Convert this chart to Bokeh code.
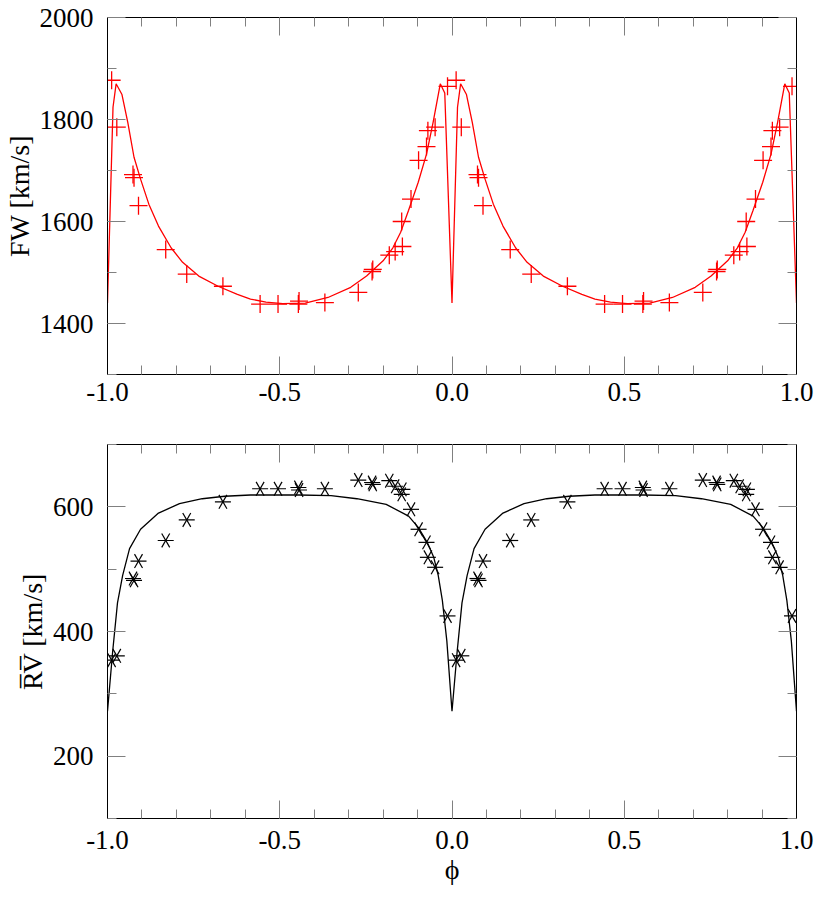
import numpy as np
from bokeh.plotting import figure
from bokeh.models import (Range1d, SingleIntervalTicker, LinearAxis, PrintfTickFormatter,
                          CustomLabelingPolicy)
from bokeh.layouts import column
from bokeh.embed import file_html
from bokeh.resources import INLINE

# ---- observed data (one cycle, phase in [0,1)) ----
phase = [0.012, 0.027, 0.074, 0.077, 0.090, 0.169, 0.230, 0.335, 0.443, 0.495,
         0.554, 0.556, 0.631, 0.728, 0.768, 0.770, 0.818, 0.835, 0.854, 0.856,
         0.881, 0.903, 0.926, 0.930, 0.951, 0.987]
fw_obs = [1877, 1785, 1692, 1686, 1631, 1545, 1497, 1473, 1438, 1438,
          1438, 1444, 1441, 1461, 1502, 1506, 1534, 1541, 1600, 1551,
          1644, 1720, 1747, 1778, 1785, 1865]
rv_obs = [354, 361, 485, 482, 513, 546, 579, 608, 629, 629,
          631, 627, 629, 643, 639, 636, 642, 633, 620, 628,
          596, 564, 543, 519, 503, 425]

# ---- model curves (one cycle) ----
fw_model_phase = [0.0, 0.016, 0.025, 0.042, 0.059, 0.077, 0.096, 0.120, 0.148, 0.185,
                  0.218, 0.265, 0.321, 0.377, 0.415, 0.460, 0.509, 0.574, 0.640, 0.706,
                  0.752, 0.800, 0.828, 0.851, 0.874, 0.902, 0.926, 0.945, 0.966, 0.979, 1.0]
fw_model = [1440, 1824, 1870, 1849, 1794, 1726, 1683, 1634, 1591, 1548,
            1520, 1493, 1473, 1457, 1448, 1442, 1439, 1440, 1451, 1471,
            1493, 1523, 1548, 1579, 1622, 1677, 1732, 1794, 1870, 1852, 1440]
rv_model_phase = [0.0, 0.015, 0.029, 0.044, 0.064, 0.096, 0.148, 0.209, 0.275, 0.340,
                  0.415, 0.556, 0.649, 0.724, 0.809, 0.874, 0.902, 0.928, 0.947, 0.960,
                  0.972, 0.985, 1.0]
rv_model = [272, 368, 446, 490, 533, 564, 590, 605, 613, 617,
            619, 619, 618, 613, 604, 585, 567, 543, 519, 490,
            450, 385, 272]

x_range = (-1.0, 1.0)
fw_range = (1300, 2000)
rv_range = (100, 700)

FONT = "Liberation Serif"
TICK_COLOR = "#808080"
HIDE_ALL = "for (const i of indices) { indices.unset(i) } return indices"


def two_cycles(ph, vals):
    ph = np.asarray(ph, dtype=float)
    vals = np.asarray(vals, dtype=float)
    return np.concatenate([ph - 1.0, ph]), np.concatenate([vals, vals])


def style_axis(ax, show_labels=True):
    ax.axis_line_color = "black"
    ax.axis_line_width = 1
    ax.major_tick_in = 18
    ax.major_tick_out = 0
    ax.minor_tick_in = 9
    ax.minor_tick_out = 0
    ax.major_tick_line_color = TICK_COLOR
    ax.minor_tick_line_color = TICK_COLOR
    ax.major_tick_line_width = 1
    ax.minor_tick_line_width = 1
    ax.major_label_text_font = FONT
    ax.axis_label_text_font = FONT
    ax.axis_label_text_font_style = "normal"
    ax.axis_label_text_font_size = "28px"
    ax.axis_label_text_color = "black"
    ax.major_label_text_color = "black"
    if show_labels:
        ax.major_label_text_font_size = "27px"
    else:
        ax.major_label_text_font_size = "0px"
        ax.major_label_standoff = 0
        ax.major_label_policy = CustomLabelingPolicy(code=HIDE_ALL)


def make_fig(yr, yint, height, ylabel, xlabel, top_border, bottom_border, xstandoff):
    p = figure(width=814, height=height, output_backend="svg", toolbar_location=None,
               x_range=Range1d(*x_range), y_range=Range1d(*yr),
               min_border_left=106, min_border_right=18,
               min_border_top=top_border, min_border_bottom=bottom_border)
    p.background_fill_color = "white"
    p.border_fill_color = "white"
    p.outline_line_color = "black"
    p.outline_line_width = 1
    p.grid.visible = False

    xt = SingleIntervalTicker(interval=0.5, num_minor_ticks=5)
    yt = SingleIntervalTicker(interval=yint, num_minor_ticks=2)
    p.xaxis.ticker = xt
    p.yaxis.ticker = yt
    p.xaxis.formatter = PrintfTickFormatter(format="%.1f")
    p.yaxis.formatter = PrintfTickFormatter(format="%d")
    for ax in p.xaxis:
        style_axis(ax)
        ax.major_label_standoff = xstandoff
        ax.axis_label_standoff = 2
    for ax in p.yaxis:
        style_axis(ax)
        ax.major_label_standoff = 14
        ax.axis_label_standoff = 2
    p.yaxis.axis_label = ylabel
    if xlabel:
        p.xaxis.axis_label = xlabel

    top = LinearAxis(ticker=xt)
    style_axis(top, show_labels=False)
    p.add_layout(top, "above")
    right = LinearAxis(ticker=yt)
    style_axis(right, show_labels=False)
    p.add_layout(right, "right")
    return p


# ---- top panel: FW ----
p1 = make_fig(fw_range, 200, 440, "FW [km/s]", None, 17, 66, 8)
mx, my = two_cycles(fw_model_phase, fw_model)
p1.line(mx, my, line_color="#ff0000", line_width=1.3)
ox, oy = two_cycles(phase, fw_obs)
p1.scatter(ox, oy, marker="cross", size=18, line_color="#ff0000", line_width=1.3)

# ---- bottom panel: RV ----
p2 = make_fig(rv_range, 200, 455, "R\u0305V\u0305 [km/s]", "\u03d5", 4, 77, 12)
mx, my = two_cycles(rv_model_phase, rv_model)
p2.line(mx, my, line_color="black", line_width=1.3)
ox, oy = two_cycles(phase, rv_obs)
for ang in (0.0, np.pi / 3, 2 * np.pi / 3):
    p2.scatter(ox, oy, marker="dash", size=16, angle=ang, line_color="black", line_width=1.2)

layout = column(p1, p2, spacing=0)
open("out.html", "w").write(file_html(layout, INLINE))
